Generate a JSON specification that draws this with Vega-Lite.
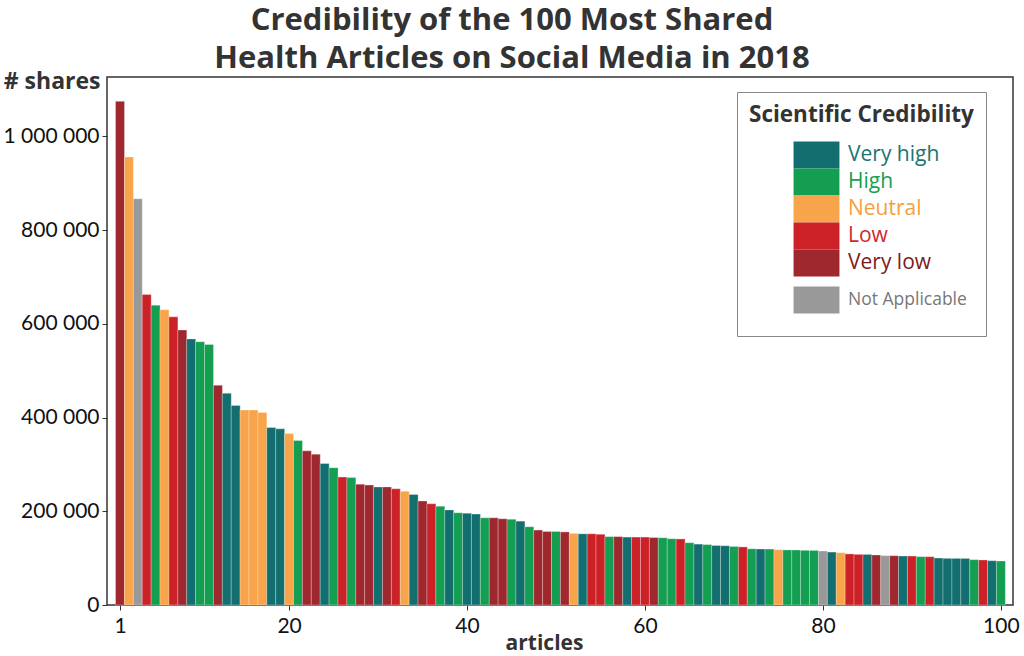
{
  "$schema": "https://vega.github.io/schema/vega-lite/v6.json",
  "width": 906,
  "height": 528,
  "autosize": {"type": "none"},
  "padding": {"left": 107, "top": 77, "right": 11, "bottom": 51},
  "title": {
    "text": ["Credibility of the 100 Most Shared", "Health Articles on Social Media in 2018"],
    "font": "Open Sans",
    "fontSize": 31,
    "fontWeight": "bold",
    "color": "#333333",
    "anchor": "middle",
    "lineHeight": 38,
    "offset": -5,
    "dx": -48
  },
  "data": {
    "values": [
      {"rank": 1, "shares": 1075000, "credibility": "Very low"},
      {"rank": 2, "shares": 956000, "credibility": "Neutral"},
      {"rank": 3, "shares": 867000, "credibility": "Not Applicable"},
      {"rank": 4, "shares": 663000, "credibility": "Low"},
      {"rank": 5, "shares": 640000, "credibility": "High"},
      {"rank": 6, "shares": 630000, "credibility": "Neutral"},
      {"rank": 7, "shares": 615000, "credibility": "Low"},
      {"rank": 8, "shares": 587000, "credibility": "Very low"},
      {"rank": 9, "shares": 568000, "credibility": "Very high"},
      {"rank": 10, "shares": 562000, "credibility": "High"},
      {"rank": 11, "shares": 556000, "credibility": "High"},
      {"rank": 12, "shares": 469000, "credibility": "Very low"},
      {"rank": 13, "shares": 452000, "credibility": "Very high"},
      {"rank": 14, "shares": 426000, "credibility": "Very high"},
      {"rank": 15, "shares": 416000, "credibility": "Neutral"},
      {"rank": 16, "shares": 416000, "credibility": "Neutral"},
      {"rank": 17, "shares": 411000, "credibility": "Neutral"},
      {"rank": 18, "shares": 379000, "credibility": "Very high"},
      {"rank": 19, "shares": 376000, "credibility": "Very high"},
      {"rank": 20, "shares": 366000, "credibility": "Neutral"},
      {"rank": 21, "shares": 351000, "credibility": "High"},
      {"rank": 22, "shares": 329000, "credibility": "Very low"},
      {"rank": 23, "shares": 322000, "credibility": "Very low"},
      {"rank": 24, "shares": 302000, "credibility": "Very high"},
      {"rank": 25, "shares": 293000, "credibility": "High"},
      {"rank": 26, "shares": 273000, "credibility": "Low"},
      {"rank": 27, "shares": 272000, "credibility": "High"},
      {"rank": 28, "shares": 258000, "credibility": "Very low"},
      {"rank": 29, "shares": 256000, "credibility": "Very low"},
      {"rank": 30, "shares": 252000, "credibility": "Very high"},
      {"rank": 31, "shares": 252000, "credibility": "Very low"},
      {"rank": 32, "shares": 248000, "credibility": "Low"},
      {"rank": 33, "shares": 243000, "credibility": "Neutral"},
      {"rank": 34, "shares": 236000, "credibility": "Very high"},
      {"rank": 35, "shares": 222000, "credibility": "Very low"},
      {"rank": 36, "shares": 216000, "credibility": "Low"},
      {"rank": 37, "shares": 211000, "credibility": "High"},
      {"rank": 38, "shares": 203000, "credibility": "Very high"},
      {"rank": 39, "shares": 197000, "credibility": "High"},
      {"rank": 40, "shares": 196000, "credibility": "Very high"},
      {"rank": 41, "shares": 194000, "credibility": "Very high"},
      {"rank": 42, "shares": 186000, "credibility": "High"},
      {"rank": 43, "shares": 186000, "credibility": "Very low"},
      {"rank": 44, "shares": 184000, "credibility": "Very low"},
      {"rank": 45, "shares": 183000, "credibility": "High"},
      {"rank": 46, "shares": 179000, "credibility": "Very high"},
      {"rank": 47, "shares": 167000, "credibility": "High"},
      {"rank": 48, "shares": 160000, "credibility": "Very low"},
      {"rank": 49, "shares": 157000, "credibility": "Very low"},
      {"rank": 50, "shares": 157000, "credibility": "High"},
      {"rank": 51, "shares": 156000, "credibility": "Very low"},
      {"rank": 52, "shares": 153000, "credibility": "Neutral"},
      {"rank": 53, "shares": 152000, "credibility": "Very high"},
      {"rank": 54, "shares": 152000, "credibility": "Low"},
      {"rank": 55, "shares": 151000, "credibility": "Low"},
      {"rank": 56, "shares": 146000, "credibility": "High"},
      {"rank": 57, "shares": 146000, "credibility": "Very low"},
      {"rank": 58, "shares": 145000, "credibility": "Very high"},
      {"rank": 59, "shares": 145000, "credibility": "Low"},
      {"rank": 60, "shares": 145000, "credibility": "Low"},
      {"rank": 61, "shares": 144000, "credibility": "Very low"},
      {"rank": 62, "shares": 143500, "credibility": "High"},
      {"rank": 63, "shares": 141500, "credibility": "High"},
      {"rank": 64, "shares": 141000, "credibility": "Low"},
      {"rank": 65, "shares": 133000, "credibility": "High"},
      {"rank": 66, "shares": 130000, "credibility": "Very high"},
      {"rank": 67, "shares": 129000, "credibility": "High"},
      {"rank": 68, "shares": 127000, "credibility": "Very high"},
      {"rank": 69, "shares": 126500, "credibility": "Very high"},
      {"rank": 70, "shares": 125000, "credibility": "High"},
      {"rank": 71, "shares": 124000, "credibility": "Low"},
      {"rank": 72, "shares": 120000, "credibility": "High"},
      {"rank": 73, "shares": 119500, "credibility": "Very high"},
      {"rank": 74, "shares": 119400, "credibility": "High"},
      {"rank": 75, "shares": 118000, "credibility": "Neutral"},
      {"rank": 76, "shares": 117500, "credibility": "High"},
      {"rank": 77, "shares": 117400, "credibility": "High"},
      {"rank": 78, "shares": 116700, "credibility": "High"},
      {"rank": 79, "shares": 116500, "credibility": "High"},
      {"rank": 80, "shares": 115300, "credibility": "Not Applicable"},
      {"rank": 81, "shares": 113000, "credibility": "Very high"},
      {"rank": 82, "shares": 111700, "credibility": "Neutral"},
      {"rank": 83, "shares": 109000, "credibility": "Low"},
      {"rank": 84, "shares": 108100, "credibility": "Low"},
      {"rank": 85, "shares": 108000, "credibility": "Very high"},
      {"rank": 86, "shares": 106700, "credibility": "Very low"},
      {"rank": 87, "shares": 105300, "credibility": "Not Applicable"},
      {"rank": 88, "shares": 105200, "credibility": "Very low"},
      {"rank": 89, "shares": 104600, "credibility": "Very high"},
      {"rank": 90, "shares": 104500, "credibility": "Low"},
      {"rank": 91, "shares": 103200, "credibility": "High"},
      {"rank": 92, "shares": 103100, "credibility": "Low"},
      {"rank": 93, "shares": 100300, "credibility": "Very high"},
      {"rank": 94, "shares": 99600, "credibility": "Very high"},
      {"rank": 95, "shares": 99500, "credibility": "Very high"},
      {"rank": 96, "shares": 99400, "credibility": "Very high"},
      {"rank": 97, "shares": 96800, "credibility": "High"},
      {"rank": 98, "shares": 96100, "credibility": "Low"},
      {"rank": 99, "shares": 94600, "credibility": "Very high"},
      {"rank": 100, "shares": 93900, "credibility": "High"}
    ]
  },
  "mark": {"type": "bar", "width": 9, "stroke": "#ffffff", "strokeWidth": 0.6, "strokeOpacity": 0.5},
  "encoding": {
    "x": {
      "field": "rank",
      "type": "quantitative",
      "scale": {"domain": [0.1, 100.8], "nice": false, "zero": false},
      "axis": {
        "values": [1, 20, 40, 60, 80, 100],
        "title": "articles",
        "titleFont": "Open Sans",
        "titleFontSize": 21,
        "titleFontWeight": "bold",
        "titleColor": "#333333",
        "titleX": 437,
        "titlePadding": -4,
        "labelFont": "Lato",
        "labelFontSize": 21,
        "labelColor": "#111111",
        "labelPadding": 5,
        "tickSize": 5,
        "tickColor": "#333333",
        "domain": false,
        "grid": false
      }
    },
    "y": {
      "field": "shares",
      "type": "quantitative",
      "scale": {"domain": [0, 1127000], "nice": false},
      "axis": {
        "values": [0, 200000, 400000, 600000, 800000, 1000000],
        "format": ",d",
        "title": "# shares",
        "titleFont": "Open Sans",
        "titleFontSize": 23,
        "titleFontWeight": "bold",
        "titleColor": "#333333",
        "titleAngle": 0,
        "titleAlign": "right",
        "titleBaseline": "middle",
        "titleX": -7,
        "titleY": 4,
        "labelFont": "Lato",
        "labelFontSize": 21,
        "labelColor": "#111111",
        "labelPadding": 3,
        "tickSize": 5,
        "tickColor": "#333333",
        "domain": false,
        "grid": false
      }
    },
    "color": {
      "field": "credibility",
      "type": "nominal",
      "scale": {
        "domain": ["Very high", "High", "Neutral", "Low", "Very low", "Not Applicable"],
        "range": ["#136f6f", "#149e52", "#f8a44a", "#cd2128", "#9f272e", "#999999"]
      },
      "legend": {
        "title": "Scientific Credibility",
        "orient": "none",
        "legendX": 630,
        "legendY": 15,
        "fillColor": "#ffffff",
        "strokeColor": "#888888",
        "padding": 12,
        "titleFont": "Open Sans",
        "titleFontSize": 22.5,
        "titleFontWeight": "bold",
        "titleColor": "#333333",
        "titleLimit": 400,
        "titlePadding": 18,
        "symbolType": "M-1.7,-1H1.7V1H-1.7Z",
        "symbolSize": 729,
        "symbolStrokeColor": "transparent",
        "symbolStrokeWidth": {"expr": "datum.value === 'Not Applicable' ? 5 : 0"},
        "symbolOpacity": 1,
        "symbolOffset": 57,
        "labelOffset": 21,
        "labelFont": "Open Sans",
        "labelFontSize": {"expr": "datum.value === 'Not Applicable' ? 17.5 : 21"},
        "labelColor": {"expr": "datum.value === 'Very high' ? '#187573' : datum.value === 'High' ? '#16a04f' : datum.value === 'Neutral' ? '#f6a03c' : datum.value === 'Low' ? '#d0282e' : datum.value === 'Very low' ? '#7d1b1b' : '#777777'"},
        "labelLimit": 300,
        "rowPadding": 0
      }
    }
  },
  "config": {
    "view": {"stroke": "#333333", "strokeWidth": 1.5},
    "locale": {"number": {"decimal": ".", "thousands": " ", "grouping": [3], "currency": ["", ""]}}
  }
}
